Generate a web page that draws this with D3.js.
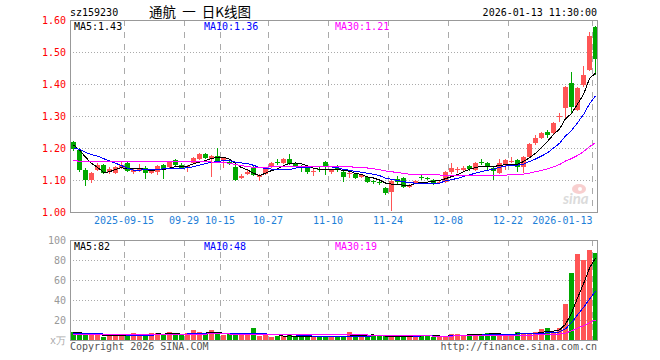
<!DOCTYPE html>
<html>
<head>
<meta charset="utf-8">
<script src="https://cdn.jsdelivr.net/npm/d3@7/dist/d3.min.js"></script>
<style>
html, body { margin: 0; padding: 0; background: #fff; }
svg { display: block; }
text { font-family: "DejaVu Sans Mono", monospace; font-size: 10px; }
</style>
</head>
<body>
<div id="chart"></div>
<script>
var code = "sz159230";
var title = "通航  一  日K线图";
var stamp = "2026-01-13 11:30:00";

var dates = ["2025-09-02","2025-09-03","2025-09-04","2025-09-05","2025-09-08","2025-09-09","2025-09-10","2025-09-11","2025-09-12","2025-09-15",
  "2025-09-16","2025-09-17","2025-09-18","2025-09-19","2025-09-22","2025-09-23","2025-09-24","2025-09-25","2025-09-26","2025-09-29",
  "2025-09-30","2025-10-09","2025-10-10","2025-10-13","2025-10-14","2025-10-15","2025-10-16","2025-10-17","2025-10-20","2025-10-21",
  "2025-10-22","2025-10-23","2025-10-24","2025-10-27","2025-10-28","2025-10-29","2025-10-30","2025-10-31","2025-11-03","2025-11-04",
  "2025-11-05","2025-11-06","2025-11-07","2025-11-10","2025-11-11","2025-11-12","2025-11-13","2025-11-14","2025-11-17","2025-11-18",
  "2025-11-19","2025-11-20","2025-11-21","2025-11-24","2025-11-25","2025-11-26","2025-11-27","2025-11-28","2025-12-01","2025-12-02",
  "2025-12-03","2025-12-04","2025-12-05","2025-12-08","2025-12-09","2025-12-10","2025-12-11","2025-12-12","2025-12-15","2025-12-16",
  "2025-12-17","2025-12-18","2025-12-19","2025-12-22","2025-12-23","2025-12-24","2025-12-25","2025-12-26","2025-12-29","2025-12-30",
  "2025-12-31","2026-01-05","2026-01-06","2026-01-07","2026-01-08","2026-01-09","2026-01-12","2026-01-13"];

var open = [1.219,1.194,1.131,1.100,1.131,1.147,1.124,1.123,1.138,1.154,
  1.125,1.128,1.138,1.122,1.126,1.147,1.141,1.163,1.147,1.138,
  1.153,1.166,1.181,1.166,1.175,1.160,1.156,1.141,1.106,1.119,
  1.138,1.109,1.119,1.141,1.156,1.153,1.166,1.153,1.141,1.141,
  1.126,1.134,1.156,1.125,1.138,1.125,1.118,1.119,1.109,1.109,
  1.097,1.094,1.075,1.063,1.103,1.106,1.078,1.091,1.109,1.106,
  1.100,1.091,1.094,1.125,1.130,1.131,1.144,1.131,1.156,1.153,
  1.138,1.122,1.147,1.156,1.163,1.141,1.172,1.216,1.231,1.250,
  1.247,1.297,1.325,1.403,1.319,1.397,1.444,1.578];
var high = [1.222,1.200,1.138,1.125,1.153,1.150,1.140,1.145,1.160,1.158,
  1.134,1.150,1.145,1.134,1.147,1.150,1.160,1.166,1.153,1.147,
  1.172,1.184,1.185,1.178,1.200,1.172,1.163,1.147,1.120,1.130,
  1.147,1.118,1.140,1.156,1.165,1.170,1.180,1.156,1.147,1.145,
  1.134,1.140,1.160,1.134,1.147,1.128,1.125,1.122,1.120,1.112,
  1.100,1.100,1.078,1.100,1.112,1.110,1.087,1.100,1.116,1.110,
  1.103,1.100,1.128,1.153,1.140,1.144,1.147,1.156,1.166,1.156,
  1.140,1.165,1.166,1.172,1.166,1.175,1.215,1.240,1.250,1.256,
  1.280,1.310,1.395,1.438,1.390,1.456,1.563,1.580];
var low = [1.190,1.125,1.080,1.090,1.128,1.118,1.120,1.120,1.134,1.125,
  1.120,1.125,1.103,1.118,1.116,1.103,1.138,1.144,1.135,1.125,
  1.150,1.163,1.165,1.110,1.156,1.137,1.147,1.097,1.103,1.116,
  1.113,1.097,1.116,1.138,1.147,1.150,1.147,1.140,1.125,1.120,
  1.113,1.125,1.116,1.120,1.125,1.094,1.106,1.103,1.106,1.090,
  1.088,1.085,1.053,1.003,1.088,1.075,1.075,1.088,1.100,1.100,
  1.085,1.088,1.090,1.120,1.122,1.128,1.128,1.128,1.147,1.128,
  1.100,1.118,1.131,1.153,1.125,1.122,1.170,1.210,1.228,1.230,
  1.244,1.282,1.294,1.309,1.317,1.390,1.440,1.428];
var close = [1.197,1.131,1.100,1.122,1.147,1.122,1.135,1.141,1.147,1.129,
  1.131,1.134,1.123,1.131,1.144,1.131,1.157,1.147,1.138,1.144,
  1.169,1.181,1.169,1.175,1.160,1.169,1.153,1.100,1.112,1.125,
  1.116,1.115,1.138,1.153,1.153,1.166,1.150,1.144,1.138,1.125,
  1.129,1.131,1.141,1.131,1.134,1.110,1.122,1.106,1.115,1.094,
  1.094,1.091,1.059,1.097,1.094,1.078,1.084,1.097,1.106,1.103,
  1.091,1.095,1.125,1.138,1.134,1.137,1.134,1.153,1.153,1.141,
  1.128,1.153,1.163,1.160,1.141,1.172,1.213,1.231,1.247,1.241,
  1.278,1.300,1.391,1.328,1.388,1.428,1.550,1.478];
// volume, unit 万
var volume = [8,5.5,5.5,4.7,4.7,3.3,4.7,4,4,4.7,
  6.7,5.7,4.7,6.7,6.7,5.7,7.7,4.7,4.7,6.7,
  9.7,7.7,5.7,9.7,5.7,4.7,5.7,4.7,5.7,4.7,
  11.7,4,4.7,3,3.7,4,4.7,4,3.3,3.3,
  3,3,3,3,3,3,7.7,5.7,4,4,
  4,4,4,4,3.3,3.3,4.7,4,4.7,4.7,
  3.3,3.3,3.3,6.3,5.7,4.7,6.3,6.3,5.7,6.7,
  5.7,5.7,5.7,4.7,8.5,5.7,5.7,8,10.7,11.7,
  8.3,11.7,36,67,86,80,90,87];
// sessions before the first visible candle, needed for the moving averages
var preClose = [1.14,1.13,1.12,1.13,1.14,1.15,1.14,1.13,1.12,1.13,
  1.14,1.15,1.14,1.13,1.14,1.15,1.15,1.14,1.15,1.16,
  1.18,1.19,1.20,1.19,1.20,1.21,1.21,1.22,1.21];
var preVolume = [4,5,4,5,4,4,5,4,5,4,5,4,4,5,4,5,4,5,4,
  6,5,6,5,6,7,6,7,7,8];

var priceTicks = [1.0,1.1,1.2,1.3,1.4,1.5,1.6];
var volTicks = [20,40,60,80,100];
var tickDates = ["2025-09-15","2025-09-29","2025-10-15","2025-10-27","2025-11-10","2025-11-24","2025-12-08","2025-12-22","2026-01-13"];
var tickLabels = ["2025-09-15","09-29","10-15","10-27","11-10","11-24","12-08","12-22","2026-01-13"];
var maDays = [5, 10, 30];
var maColors = ["#000000", "#0000ff", "#ff00ff"];

var W = 660, H = 360;
var L = 70, R = 597, PT = 20, PB = 212, VT = 240, VB = 340;
var UP = "#ff5555", DOWN = "#00a800", GRID = "#aaaaaa", FRAME = "#999999";

var svg = d3.select("#chart").append("svg").attr("width", W).attr("height", H);

var idx = d3.range(dates.length);
var x = d3.scaleBand().domain(idx).range([L, L + 6 * dates.length]);
var y = d3.scaleLinear().domain([1.0, 1.6]).range([PB, PT]);
var yv = d3.scaleLinear().domain([0, 100]).range([VB, VT]);

function cx(i) { return x(i) + 3.5; }
function movAvg(pre, vals, n) {
  var all = pre.concat(vals), off = pre.length;
  return vals.map(function(v, i) { return d3.mean(all.slice(off + i - n + 1, off + i + 1)); });
}
function trunc(v, d) { var p = Math.pow(10, d); return (Math.floor(v * p + 1e-7) / p).toFixed(d); }
function isUp(i) { return close[i] >= open[i]; }

var tickIdx = tickDates.map(function(d) { return dates.indexOf(d); });

// grid
function grid(top, bottom, scale, ticks) {
  var g = svg.append("g").attr("shape-rendering", "crispEdges");
  g.selectAll(".h").data(ticks).enter().append("line")
    .attr("x1", L).attr("x2", R).attr("y1", function(d) { return Math.round(scale(d)) + 0.5; })
    .attr("y2", function(d) { return Math.round(scale(d)) + 0.5; })
    .attr("stroke", GRID).attr("stroke-dasharray", "1,2");
  g.selectAll(".v").data(tickIdx).enter().append("line")
    .attr("x1", function(i) { return x(i) + 0.5; }).attr("x2", function(i) { return x(i) + 0.5; })
    .attr("y1", top).attr("y2", bottom)
    .attr("stroke", GRID).attr("stroke-dasharray", "6,6");
}
grid(PT, PB, y, priceTicks.slice(1, -1));
grid(VT, VB, yv, volTicks.slice(0, -1));

// sina watermark
var wm = svg.append("g").attr("opacity", 0.5);
wm.append("ellipse").attr("cx", 579).attr("cy", 189).attr("rx", 7).attr("ry", 5).attr("fill", "#f2a0a0");
wm.append("circle").attr("cx", 580).attr("cy", 189).attr("r", 2).attr("fill", "#ffffff");
wm.append("text").attr("x", 563).attr("y", 204).text("sina")
  .style("font-family", "Lato, sans-serif").style("font-size", "15px").style("font-weight", "bold")
  .style("font-style", "italic").attr("fill", "#b8b8b8");

// candles
var cg = svg.append("g").attr("shape-rendering", "crispEdges");
cg.selectAll(".wick").data(idx).enter().append("line")
  .attr("x1", cx).attr("x2", cx)
  .attr("y1", function(i) { return y(high[i]); }).attr("y2", function(i) { return y(low[i]); })
  .attr("stroke", function(i) { return isUp(i) ? UP : DOWN; });
cg.selectAll(".body").data(idx).enter().append("rect")
  .attr("x", function(i) { return x(i) + 1; }).attr("width", 5)
  .attr("y", function(i) { return y(Math.max(open[i], close[i])); })
  .attr("height", function(i) { return Math.max(1, Math.abs(y(open[i]) - y(close[i]))); })
  .attr("fill", function(i) { return isUp(i) ? UP : DOWN; });

// volume bars
cg.selectAll(".vol").data(idx).enter().append("rect")
  .attr("x", function(i) { return x(i) + 1; }).attr("width", 5)
  .attr("y", function(i) { return yv(volume[i]); })
  .attr("height", function(i) { return VB - yv(volume[i]); })
  .attr("fill", function(i) { return isUp(i) ? UP : DOWN; });

// moving averages
var priceMA = maDays.map(function(n) { return movAvg(preClose, close, n); });
var volMA = maDays.map(function(n) { return movAvg(preVolume, volume, n); });
function drawMA(series, scale) {
  var line = d3.line().x(function(d, i) { return cx(i); }).y(function(d) { return scale(d); });
  series.forEach(function(s, k) {
    svg.append("path").attr("d", line(s)).attr("fill", "none")
      .attr("stroke", maColors[k]).attr("stroke-width", 1).attr("shape-rendering", "crispEdges");
  });
}
drawMA(priceMA, y);
drawMA(volMA, yv);

// frames
svg.append("rect").attr("x", L + 0.5).attr("y", PT + 0.5).attr("width", R - L).attr("height", PB - PT)
  .attr("fill", "none").attr("stroke", FRAME).attr("shape-rendering", "crispEdges");
svg.append("rect").attr("x", L + 0.5).attr("y", VT + 0.5).attr("width", R - L).attr("height", VB - VT)
  .attr("fill", "none").attr("stroke", FRAME).attr("shape-rendering", "crispEdges");

// axes labels
var ay = svg.append("g").attr("transform", "translate(" + L + ",0)")
  .call(d3.axisLeft(y).tickValues(priceTicks).tickFormat(d3.format(".2f")).tickSize(0).tickPadding(4));
ay.select(".domain").remove();
ay.selectAll("text").attr("fill", "#ff0000").style("font-family", "DejaVu Sans Mono, monospace").style("font-size", "10px");

var av = svg.append("g").attr("transform", "translate(" + L + ",0)")
  .call(d3.axisLeft(yv).tickValues(volTicks).tickSize(0).tickPadding(4));
av.select(".domain").remove();
av.selectAll("text").attr("fill", "#999999").style("font-family", "DejaVu Sans Mono, monospace").style("font-size", "10px");
svg.append("text").attr("x", 66).attr("y", 344).attr("text-anchor", "end").attr("fill", "#aaaaaa").text("x万");

svg.selectAll(".dlab").data(tickIdx).enter().append("text")
  .attr("x", function(i, k) { return k === tickIdx.length - 1 ? x(i) + 0.5 : x(i); })
  .attr("y", 224)
  .attr("text-anchor", function(i, k) { return k === tickIdx.length - 1 ? "end" : "middle"; })
  .attr("fill", "#1e80d8")
  .text(function(i, k) { return tickLabels[k]; });

// header
svg.append("text").attr("x", L).attr("y", 16).attr("fill", "#000").text(code);
svg.append("text").attr("x", 200).attr("y", 17).attr("text-anchor", "middle").attr("fill", "#000")
  .style("font-family", "'Noto Sans CJK SC', sans-serif").style("font-size", "13.5px")
  .style("white-space", "pre").text(title);
svg.append("text").attr("x", R).attr("y", 16).attr("text-anchor", "end").attr("fill", "#000").text(stamp);

// legends
var legX = [74, 204, 335];
maDays.forEach(function(n, k) {
  var last = dates.length - 1;
  svg.append("text").attr("x", legX[k]).attr("y", 30).attr("fill", maColors[k])
    .text("MA" + n + ":" + trunc(priceMA[k][last], 2));
  svg.append("text").attr("x", legX[k]).attr("y", 250).attr("fill", maColors[k])
    .text("MA" + n + ":" + trunc(volMA[k][last], 0));
});

// footer
svg.append("text").attr("x", L).attr("y", 350).attr("fill", "#555555").text("Copyright 2026 SINA.COM");
svg.append("text").attr("x", R).attr("y", 350).attr("text-anchor", "end").attr("fill", "#555555").text("http://finance.sina.com.cn");
</script>
</body>
</html>
